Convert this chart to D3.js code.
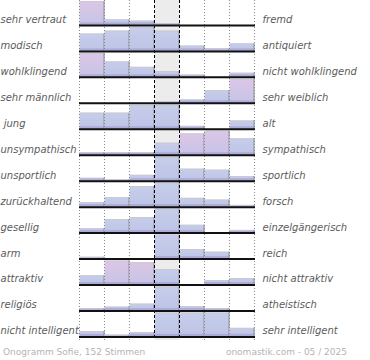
<!DOCTYPE html>
<html>
<head>
<meta charset="utf-8">
<script src="https://cdn.jsdelivr.net/npm/d3@7"></script>
<style>
  body { margin: 0; background: #fff; }
  svg { display: block; font-family: "DejaVu Sans", sans-serif; }
</style>
</head>
<body>
<div id="chart"></div>
<script>
// left and right poles of each scale
var leftLabels = ["sehr vertraut", "modisch", "wohlklingend", "sehr männlich", " jung", "unsympathisch",
  "unsportlich", "zurückhaltend", "gesellig", "arm", "attraktiv", "religiös", "nicht intelligent"];
var rightLabels = ["fremd", "antiquiert", "nicht wohlklingend", "sehr weiblich", "alt", "sympathisch",
  "sportlich", "forsch", "einzelgängerisch", "reich", "nicht attraktiv", "atheistisch", "sehr intelligent"];

// votes per bin, relative to the strongest bin of the row (= 100)
var votes = [
  [100, 25, 20, 9, 0, 0, 0],
  [73, 85, 100, 85, 24, 12, 33],
  [100, 65, 43, 26, 11, 0, 19],
  [0, 0, 0, 9, 16, 54, 100],
  [68, 68, 100, 100, 14, 0, 36],
  [13, 13, 13, 51, 89, 100, 69],
  [14, 7, 26, 100, 51, 47, 21],
  [20, 41, 86, 100, 38, 31, 9],
  [20, 57, 65, 100, 34, 0, 13],
  [9, 0, 4, 100, 41, 30, 4],
  [40, 100, 93, 65, 0, 20, 28],
  [11, 18, 30, 100, 20, 11, 0],
  [24, 9, 20, 100, 100, 100, 37]
];

// bins drawn in the highlighted (pink) tone: [row, bin]
var strongBins = [[0, 0], [2, 0], [3, 6], [5, 4], [5, 5], [10, 1], [10, 2]];

var footerLeft = "Onogramm Sofie, 152 Stimmen";
var footerRight = "onomastik.com - 05 / 2025";

var fullWidth = 370, fullHeight = 360;
var barMax = 24.5;

var svg = d3.select("#chart").append("svg")
  .attr("width", fullWidth)
  .attr("height", fullHeight);

var defs = svg.append("defs");
function grad(id, top, bottom) {
  var g = defs.append("linearGradient").attr("id", id)
    .attr("x1", 0).attr("y1", 0).attr("x2", 0).attr("y2", 1);
  g.append("stop").attr("offset", "0%").attr("stop-color", top);
  g.append("stop").attr("offset", "100%").attr("stop-color", bottom);
}
grad("blueBar", "#c7ceeb", "#bcc3e5");
grad("pinkBar", "#dcc6e6", "#c6c4e6");

var xScale = d3.scaleBand().domain(d3.range(7)).range([79.5, 254.5]);
var rowScale = d3.scaleBand().domain(d3.range(votes.length)).range([-0.5, 336.9]);

var gridTop = 0, gridBottom = 340;

// neutral column background
svg.append("rect")
  .attr("x", xScale(3)).attr("y", gridTop)
  .attr("width", xScale.bandwidth()).attr("height", gridBottom - gridTop)
  .attr("fill", "#ececec");

function isStrong(r, b) {
  return strongBins.some(function(s) { return s[0] == r && s[1] == b; });
}

// bars for each row
votes.forEach(function(row, r) {
  var base = rowScale(r) + rowScale.bandwidth();
  var yScale = d3.scaleLinear()
    .domain([0, d3.max(row)])
    .range([base, base - barMax]);

  var g = svg.append("g").attr("class", "row");
  row.forEach(function(v, b) {
    if (v <= 0) return;
    var x0 = xScale(b), x1 = x0 + xScale.bandwidth();
    var top = yScale(v), h = base - top;
    g.append("rect")
      .attr("x", x0).attr("y", top)
      .attr("width", xScale.bandwidth()).attr("height", h)
      .attr("fill", isStrong(r, b) ? "url(#pinkBar)" : "url(#blueBar)");
    // darker strip at the foot of the bar
    g.append("rect")
      .attr("x", x0).attr("y", base - Math.min(h, 3))
      .attr("width", xScale.bandwidth()).attr("height", Math.min(h, 3))
      .attr("fill", "#a29bd0").attr("fill-opacity", 0.6);
    // top edge and right edge
    g.append("line")
      .attr("x1", x0).attr("x2", x1).attr("y1", top + 0.5).attr("y2", top + 0.5)
      .attr("stroke", "#c9c9d2").attr("stroke-width", 1);
    g.append("line")
      .attr("x1", x1 - 0.5).attr("x2", x1 - 0.5).attr("y1", top).attr("y2", base)
      .attr("stroke", "#8f8f98").attr("stroke-width", 1);
  });
});

// vertical grid: dotted for the outer bins, dashed around the middle
var edges = d3.range(8).map(function(i) { return i < 7 ? xScale(i) : xScale(6) + xScale.bandwidth(); });
edges.forEach(function(x, i) {
  var mid = (i == 3 || i == 4);
  svg.append("line")
    .attr("x1", Math.round(x) - 0.5).attr("x2", Math.round(x) - 0.5)
    .attr("y1", gridTop).attr("y2", gridBottom)
    .attr("stroke", mid ? "#000" : "#8a8a8a")
    .attr("stroke-width", 1)
    .attr("stroke-dasharray", mid ? "3,2" : "1,2");
});

// baselines
votes.forEach(function(row, r) {
  var base = rowScale(r) + rowScale.bandwidth();
  svg.append("line")
    .attr("x1", 79).attr("x2", 255)
    .attr("y1", base).attr("y2", base)
    .attr("stroke", "#111").attr("stroke-width", 2);
});

// pole labels
var labelG = svg.append("g")
  .style("font-size", "10px")
  .style("font-style", "italic")
  .style("fill", "#5b5b5b");

labelG.selectAll("text.left")
  .data(leftLabels)
  .enter().append("text")
  .attr("class", "left")
  .attr("x", 0.5)
  .attr("y", function(d, i) { return rowScale(i) + rowScale.bandwidth() - 2.5; })
  .attr("xml:space", "preserve")
  .style("white-space", "pre")
  .text(function(d) { return d; });

labelG.selectAll("text.right")
  .data(rightLabels)
  .enter().append("text")
  .attr("class", "right")
  .attr("x", 262.5)
  .attr("y", function(d, i) { return rowScale(i) + rowScale.bandwidth() - 2.5; })
  .text(function(d) { return d; });

// footer
svg.append("text")
  .attr("x", 3).attr("y", 355)
  .style("font-size", "9px").style("fill", "#b4b4b4")
  .text(footerLeft);

svg.append("text")
  .attr("x", 347).attr("y", 355)
  .style("text-anchor", "end")
  .style("font-size", "9px").style("fill", "#b4b4b4")
  .text(footerRight);
</script>
</body>
</html>
